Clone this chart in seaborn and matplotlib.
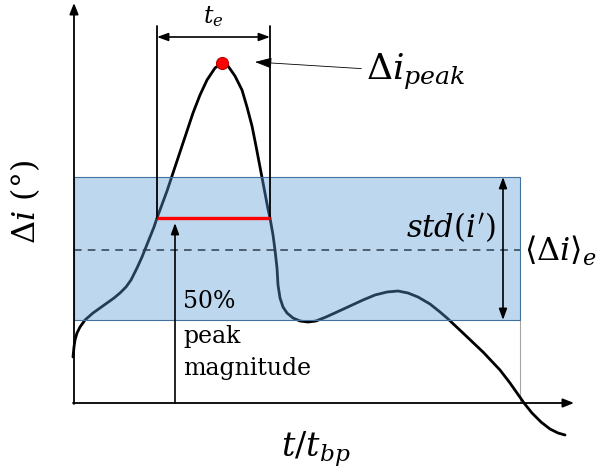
import matplotlib
matplotlib.use("Agg")
import matplotlib.pyplot as plt
from matplotlib.patches import Rectangle
import pandas as pd
import seaborn as sns

# Schematic deviation signal Δi over normalised time t/t_bp
t_vals = [-1, 0, 1, 3, 6, 11, 19, 26, 33, 40, 46, 52, 57, 63, 68, 72, 76, 80,
          83, 93, 99, 106, 113, 119, 126, 133, 141, 148, 154, 161, 168, 173,
          178, 182, 186, 190, 194, 196, 199, 201, 203, 204, 206, 209, 213, 219,
          226, 234, 242, 252, 263, 276, 289, 301, 313, 324, 334, 344, 356, 366,
          373, 389, 409, 426, 436, 443, 450, 458, 467, 476, 484, 491]
di_vals = [46, 56, 63, 70, 76, 83, 90, 95, 100, 105, 110, 116, 123, 135, 146,
           156, 166, 176, 185, 212, 230, 251, 272, 290, 308, 323, 335, 340, 337,
           327, 313, 296, 277, 257, 236, 215, 194, 185, 168, 153, 135, 118, 105,
           96, 90, 85, 82, 81, 82, 86, 91, 97, 103, 108, 111, 112, 110, 106, 99,
           91, 85, 70, 51, 33, 20, 10, 0, -10, -19, -26, -30, -32]

peak_t, peak_di = [148], [340]          # Δi_peak
half_level = 185                         # 50 % of peak magnitude
event_start, event_end = 83, 196         # event duration t_e
band_low, band_high = 83, 226            # mean ± std(i') band
band_end = 446
mean_level = 153                         # <Δi>_e

sns.set_theme(style="white")
plt.rcParams["font.family"] = ["DejaVu Serif", "DejaVu Sans"]
plt.rcParams["mathtext.fontset"] = "dejavuserif"
plt.rcParams["text.color"] = "black"

fig = plt.figure(figsize=(6.04, 4.74), dpi=100)
ax = fig.add_axes([0, 0, 1, 1])
ax.set_xlim(-74, 530)
ax.set_ylim(-71, 403)
ax.axis("off")

curve = pd.DataFrame({"t": t_vals, "di": di_vals})
sns.lineplot(data=curve, x="t", y="di", sort=False, estimator=None,
             color="black", linewidth=2.0, ax=ax, zorder=2,
             solid_joinstyle="round", solid_capstyle="round")

# shaded band around the mean
ax.add_patch(Rectangle((0, band_low), band_end, band_high - band_low,
                       facecolor="#5B9BD5", alpha=0.4, edgecolor="none", zorder=3))
ax.add_patch(Rectangle((0, band_low), band_end, band_high - band_low,
                       facecolor="none", edgecolor="#41719C", linewidth=0.8, zorder=4))
ax.plot([band_end, band_end], [0, band_low], color="#A6A6A6", linewidth=0.8, zorder=1)
ax.plot([0, band_end], [mean_level, mean_level], color="#2E3F50", linewidth=1.1,
        dashes=(5, 4), zorder=5)

# axes with arrow heads
ax.annotate("", xy=(0, 400), xytext=(0, -1),
            arrowprops=dict(arrowstyle="-|>,head_length=0.55,head_width=0.22",
                            color="black", lw=1.3, shrinkA=0, shrinkB=0), zorder=6)
ax.annotate("", xy=(500, 0), xytext=(-1, 0),
            arrowprops=dict(arrowstyle="-|>,head_length=0.55,head_width=0.22",
                            color="black", lw=1.3, shrinkA=0, shrinkB=0), zorder=6)

# event duration t_e
for te in (event_start, event_end):
    ax.plot([te, te], [half_level, 377], color="black", linewidth=1.3, zorder=5)
ax.annotate("", xy=(event_start, 366), xytext=(event_end, 366),
            arrowprops=dict(arrowstyle="<|-|>,head_length=0.55,head_width=0.2",
                            color="black", lw=1.2, shrinkA=0, shrinkB=0), zorder=6)
ax.text((event_start + event_end) / 2, 386, r"$t_e$", ha="center", va="center",
        fontsize=17)

# half-peak level
ax.plot([event_start, event_end], [half_level, half_level], color="#FF0000",
        linewidth=2.4, zorder=7, solid_capstyle="butt")

sns.scatterplot(x=peak_t, y=peak_di, color="#FF0000", edgecolor="#C00000",
                s=75, linewidth=0.8, ax=ax, zorder=8)

ax.annotate(r"$\Delta i_{peak}$", xy=(181, 341), xytext=(292, 331),
            fontsize=26, va="center", ha="left",
            arrowprops=dict(arrowstyle="-|>,head_length=0.4,head_width=0.13",
                            color="black", lw=0.6, shrinkA=1, shrinkB=0))

# 50 % peak magnitude pointer
ax.annotate("", xy=(101, 180), xytext=(101, 0),
            arrowprops=dict(arrowstyle="-|>,head_length=0.55,head_width=0.2",
                            color="black", lw=1.2, shrinkA=0, shrinkB=0), zorder=6)
for txt, yy in (("50%", 101), ("peak", 67), ("magnitude", 35)):
    ax.text(109, yy, txt, ha="left", va="center", fontsize=17, zorder=6)

# std(i') span
ax.annotate("", xy=(429, band_low), xytext=(429, band_high),
            arrowprops=dict(arrowstyle="<|-|>,head_length=0.55,head_width=0.2",
                            color="black", lw=1.2, shrinkA=0, shrinkB=0), zorder=6)
ax.text(422, 176, r"$std(i')$", ha="right", va="center", fontsize=22, zorder=6)
ax.text(450, 152, r"$\langle\Delta i\rangle_e$", ha="left", va="center", fontsize=23)

ax.text(-49, 201, r"$\Delta i$ (°)", rotation=90, ha="center", va="center",
        fontsize=23)
ax.text(242, -46, r"$t/t_{bp}$", ha="center", va="center", fontsize=24)

fig.savefig("out.png", dpi=100)
